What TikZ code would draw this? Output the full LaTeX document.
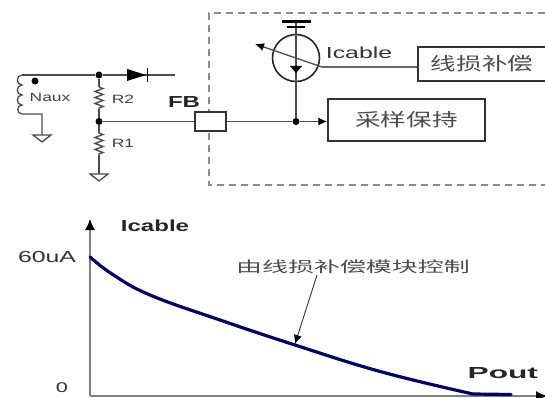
\documentclass[tikz,border=0pt]{standalone}
\usepackage{fontspec}
\setmainfont{Liberation Sans}
\newfontfamily\cjk{Noto Sans CJK SC}
\usetikzlibrary{arrows.meta, decorations.pathmorphing}
\definecolor{curveblue}{RGB}{0,0,110}

\begin{document}
\begin{tikzpicture}[
      x=1pt, y=-1pt,
      wire/.style={draw=black!70, line width=1.3pt},
      dot/.style={circle, fill=black, inner sep=0pt, minimum size=7pt},
      block/.style={draw=black!80, line width=1.5pt, fill=white, inner sep=0pt},
      cjklabel/.style={font=\cjk\fontsize{18}{22}\selectfont, text=black!70, xscale=1.42},
      notelabel/.style={font=\cjk\fontsize{15}{18}\selectfont, text=black!70, xscale=1.73},
      small/.style={font=\fontsize{12}{14}\selectfont, text=black!75, xscale=1.45},
      title/.style={font=\bfseries\fontsize{16}{18}\selectfont, text=black!85, xscale=1.5},
      value/.style={font=\fontsize{16}{18}\selectfont, text=black!80, xscale=1.55},
      tip/.style={-{Latex[length=9pt,width=8pt,black]}},
      zig/.style={wire, decoration={zigzag, segment length=6pt, amplitude=4pt}, decorate}
   ]
      \useasboundingbox (0,0) rectangle (545,398);

      % Dashed chip outline
      \draw[black!45, dash pattern=on 7pt off 5pt, line width=1.2pt]
         (545,13) -- (209,13) -- (209,185) -- (545,185);

      % Blocks
      \node[block, minimum width=31pt, minimum height=19pt] (fb) at (210.5,121.5) {};
      \node[block, minimum width=157pt, minimum height=42pt] (hold) at (406.5,120) {};
      \node[block, minimum width=129pt, minimum height=34pt] (comp) at (482.5,64) {};
      \node[cjklabel] (holdtext) at (406.5,120) {采样保持};
      \node[cjklabel] (comptext) at (482,64) {线损补偿};

      % Junctions and free ends
      \node[dot] (top) at (99,75) {};
      \node[dot] (mid) at (99,121.5) {};
      \node[dot] (sense) at (296,121.5) {};
      \node[dot] (phase) at (35,81) {};
      \coordinate (wireL) at (22,75);
      \coordinate (wireR) at (175,75);
      \coordinate (coilB) at (22,114);
      \coordinate (coilG) at (42,114);
      \coordinate (gndA) at (42,135);
      \coordinate (gndB) at (99,174);
      \coordinate (r2a) at (99,87);
      \coordinate (r2b) at (99,109);
      \coordinate (r1a) at (99,133);
      \coordinate (r1b) at (99,155);
      \coordinate (rail) at (296,23);
      \coordinate (slashA) at (322,67);
      \coordinate (slashB) at (255,44);

      % Winding and divider
      \draw[wire] (wireL) -- (top) -- (wireR);
      \draw[wire] (wireL) to[out=180,in=180,looseness=1.6] (22,85)
         to[out=180,in=180,looseness=1.6] (22,95)
         to[out=180,in=180,looseness=1.6] (22,105)
         to[out=180,in=180,looseness=1.6] (coilB) -- (coilG) -- (gndA);
      \draw[wire] (top) -- (r2a);
      \draw[zig] (r2a) -- (r2b);
      \draw[wire] (r2b) -- (mid) -- (r1a);
      \draw[zig] (r1a) -- (r1b);
      \draw[wire] (r1b) -- (gndB);
      \draw[wire] (mid) -- (fb);
      \foreach \p in {gndA, gndB}
         \draw[wire, fill=white] (\p) ++(-9,0) -- ++(18,0) -- ++(-9,7) -- cycle;

      % Diode
      \fill (127,69) -- (127,81) -- (146,75) -- cycle;
      \draw[line width=1.2pt] (147.5,68) -- (147.5,82);

      % Current source
      \node[circle, draw=black!85, line width=1.6pt, minimum size=47pt, inner sep=0pt] (isrc) at (296,58) {};
      \draw[wire] (fb) -- (sense);
      \draw[wire, tip] (sense) -- (sense -| hold.west);
      \draw[wire] (rail) -- (sense);
      \draw[line width=3pt] (282,22) -- (311,22);
      \draw[line width=1.4pt] (287,27) -- (305,27);
      \fill (290,66) -- (302,66) -- (296,73) -- cycle;
      \draw[wire, tip] (slashA) -- (slashB);
      \draw[wire, black!60] (slashA) -- (comp.west |- slashA);

      % Circuit labels
      \node[small] (naux) at (50,97) {Naux};
      \node[small] (r2) at (123,99) {R2};
      \node[small] (r1) at (123,143) {R1};
      \node[title] (fbtext) at (184,102) {FB};
      \node[value] (ilabel) at (359,53) {Icable};

      % Axes and curve
      \coordinate (origin) at (90,396);
      \draw[black!50, line width=1.3pt, -{Latex[length=11pt,width=10pt,black]}] (origin) -- (90,219);
      \draw[black!50, line width=1.3pt, -{Latex[length=11pt,width=10pt,black]}] (origin) -- (547,396);
      \draw[curveblue, line width=3.2pt, line cap=round] plot[smooth, tension=0.7] coordinates
         {(90,257) (112,274) (150,295) (220,320) (295,345) (382,372) (473,394)} -- (511,394.5);

      % Plot labels
      \node[title] (ylabel) at (155,226) {Icable};
      \node[value] (vmax) at (47,257) {60uA};
      \node[value, font=\fontsize{14}{15}\selectfont] (vzero) at (62,388) {0};
      \node[title, anchor=east, xscale=1.32] (xlabel) at (545,373) {Pout};
      \node[notelabel] (note) at (353,267) {由线损补偿模块控制};
      \coordinate (noteend) at (295,344);
      \draw[black!80, line width=0.9pt, tip] (317,275) -- (noteend);
\end{tikzpicture}
\end{document}
